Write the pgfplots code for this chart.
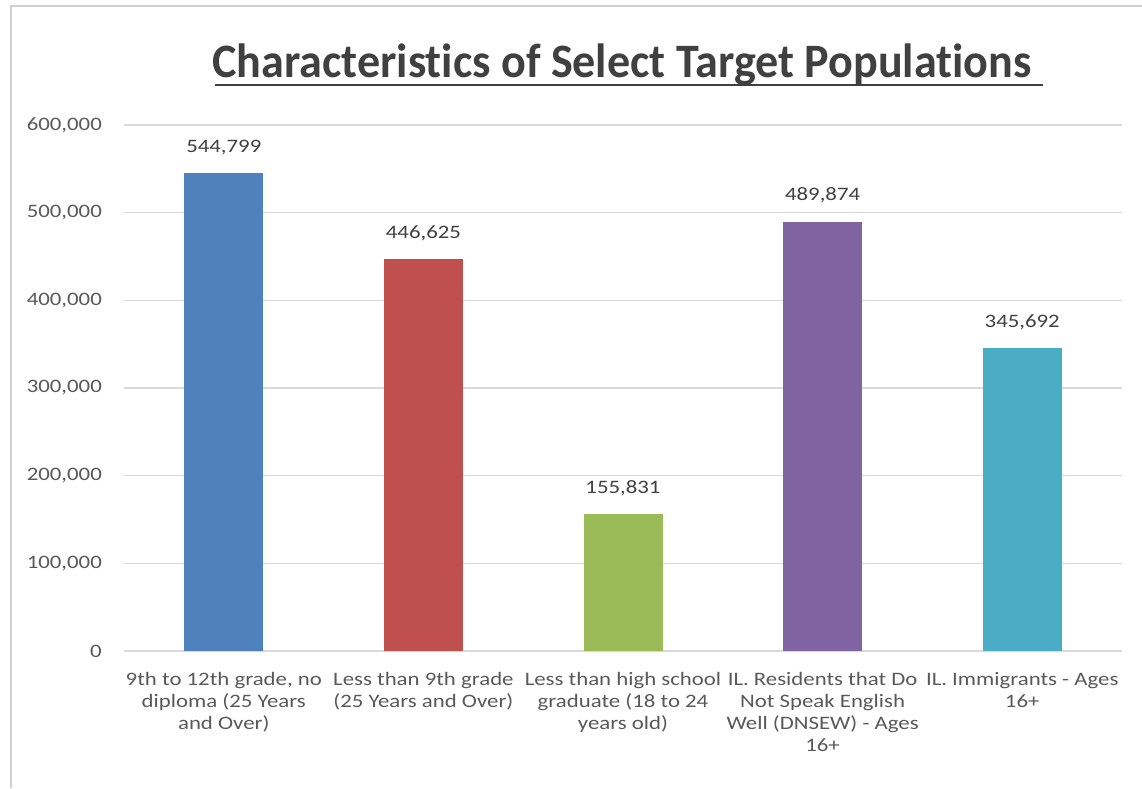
\documentclass[border=0pt]{standalone}
\usepackage{fontspec}
\setmainfont{Carlito}[FakeStretch=1.2, Ligatures=NoCommon]
\newfontfamily\titlefont{Carlito}[FakeStretch=0.96, Ligatures=NoCommon]
\usepackage{pgfplots}
\pgfplotsset{compat=1.18}

\definecolor{barBlue}{HTML}{4F81BD}
\definecolor{barRed}{HTML}{C0504D}
\definecolor{barGreen}{HTML}{9BBB59}
\definecolor{barPurple}{HTML}{8064A2}
\definecolor{barTeal}{HTML}{4BACC6}
\definecolor{gridGray}{HTML}{D9D9D9}
\definecolor{frameGray}{HTML}{D0D0D0}
\definecolor{textGray}{HTML}{595959}
\definecolor{titleGray}{HTML}{404040}

\begin{document}
\begin{tikzpicture}[x=1pt,y=1pt]
\path[use as bounding box] (0,0) rectangle (1142,788);
\draw[frameGray, line width=1.5pt] (11,0) -- (11,782) -- (1142,782);
% title, underlined including the trailing space
\node[anchor=base, inner sep=0pt, text=titleGray,
      font=\titlefont\fontsize{48}{54}\selectfont\bfseries] at (622,710)
      {Characteristics of Select Target Populations};
\draw[titleGray, line width=2.5pt] (215,703) -- (1043,703);

\begin{axis}[
    at={(124pt,137pt)}, anchor=south west,
    width=998pt, height=526pt, scale only axis,
    ybar, bar width=79pt, bar shift=0pt,
    xmin=-0.5, xmax=4.5,
    ymin=0, ymax=600000,
    ytick={0,100000,200000,300000,400000,500000,600000},
    scaled y ticks=false,
    xtick={0,1,2,3,4},
    xticklabels={
        {9th to 12th grade, no\\diploma (25 Years\\and Over)},
        {Less than 9th grade\\(25 Years and Over)},
        {Less than high school\\graduate (18 to 24\\years old)},
        {IL. Residents that Do\\Not Speak English\\Well (DNSEW) - Ages\\16+},
        {IL. Immigrants - Ages\\16+}},
    /pgf/number format/.cd, fixed, precision=0, 1000 sep={,}, assume math mode=true,
    /pgfplots/.cd,
    axis line style={draw=none},
    tick style={draw=none},
    major tick length=0pt,
    ymajorgrids,
    grid style={gridGray, line width=1.3pt},
    yticklabel style={font=\fontsize{19}{22}\selectfont, text=textGray,
        anchor=east, inner sep=0pt, xshift=-22pt},
    xticklabel style={font=\fontsize{19}{22}\selectfont, text=textGray,
        align=center, anchor=north, inner sep=0pt, yshift=-21pt},
    nodes near coords,
    every node near coord/.append style={font=\fontsize{19}{22}\selectfont,
        text=titleGray, anchor=south, inner sep=0pt, yshift=18pt},
    clip=false,
]
\addplot[fill=barBlue, draw=none] coordinates {(0,544799)};
\addplot[fill=barRed, draw=none] coordinates {(1,446625)};
\addplot[fill=barGreen, draw=none] coordinates {(2,155831)};
\addplot[fill=barPurple, draw=none] coordinates {(3,489874)};
\addplot[fill=barTeal, draw=none] coordinates {(4,345692)};
\end{axis}
\end{tikzpicture}
\end{document}
